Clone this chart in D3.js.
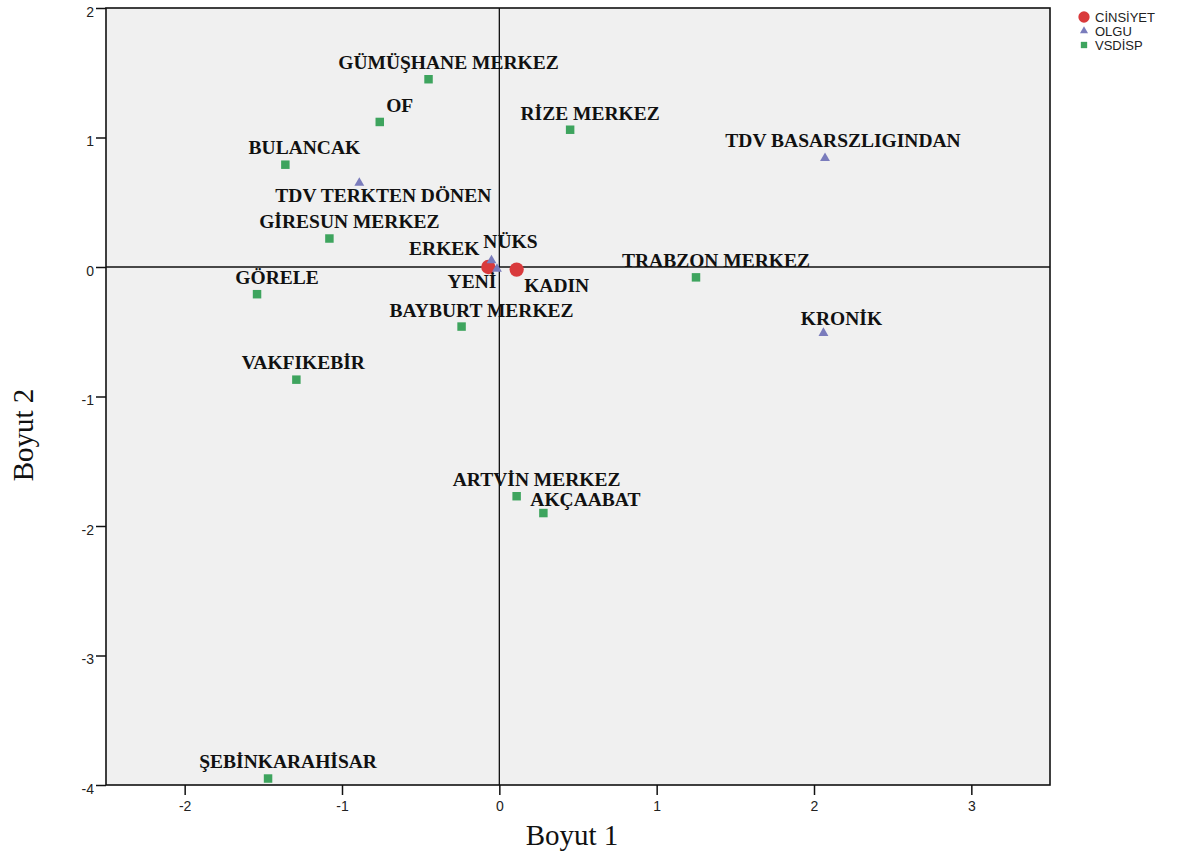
<!DOCTYPE html>
<html>
<head>
<meta charset="utf-8">
<script src="https://cdn.jsdelivr.net/npm/d3@7/dist/d3.min.js"></script>
<style>
  html, body { margin: 0; padding: 0; background: #ffffff; }
  svg { display: block; }
  .ptlabel { font-family: "Liberation Serif", "Times New Roman", serif; font-weight: bold; font-size: 19.5px; fill: #111; }
</style>
</head>
<body>
<svg id="chart" width="1188" height="859"></svg>
<script>
// CİNSİYET category points
const cinsiyetNames = ["ERKEK", "KADIN"];
const cinsiyetX = [-0.07, 0.11];
const cinsiyetY = [0.00, -0.02];

// OLGU category points
const olguNames = ["NÜKS", "YENİ", "TDV TERKTEN DÖNEN", "TDV BASARSZLIGINDAN", "KRONİK"];
const olguX = [-0.05, -0.015, -0.89, 2.07, 2.06];
const olguY = [0.05, -0.015, 0.65, 0.84, -0.51];

// VSDİSP category points
const vsdispNames = ["GÜMÜŞHANE MERKEZ", "OF", "RİZE MERKEZ", "BULANCAK", "GİRESUN MERKEZ",
  "GÖRELE", "VAKFIKEBİR", "BAYBURT MERKEZ", "TRABZON MERKEZ", "ARTVİN MERKEZ",
  "AKÇAABAT", "ŞEBİNKARAHİSAR"];
const vsdispX = [-0.45, -0.76, 0.45, -1.36, -1.08, -1.54, -1.29, -0.24, 1.25, 0.11, 0.28, -1.47];
const vsdispY = [1.45, 1.12, 1.06, 0.79, 0.22, -0.21, -0.87, -0.46, -0.08, -1.77, -1.90, -3.95];

// axis ticks
const xTicks = [-2, -1, 0, 1, 2, 3];
const yTicks = [-4, -3, -2, -1, 0, 1, 2];

// legend entries
const legendNames = ["CİNSİYET", "OLGU", "VSDİSP"];

// label placement (pixel offsets from the marker), default is above-right
const labelDefault = { dx: 20, dy: -10 };
const labelOffsets = {
  "ERKEK": { dx: -44, dy: -12 },
  "KADIN": { dx: 40, dy: 22 },
  "NÜKS": { dx: 19, dy: -13 },
  "YENİ": { dx: -25, dy: 19 },
  "TDV TERKTEN DÖNEN": { dx: 24, dy: 19 },
  "TDV BASARSZLIGINDAN": { dx: 18, dy: -11 },
  "KRONİK": { dx: 18, dy: -8 },
  "VAKFIKEBİR": { dx: 7, dy: -11 },
  "AKÇAABAT": { dx: 42, dy: -7 },
  "BULANCAK": { dx: 19, dy: -11 },
  "GİRESUN MERKEZ": { dx: 20, dy: -11 },
  "ŞEBİNKARAHİSAR": { dx: 20, dy: -11 }
};

const colors = { cinsiyet: "#d93a3c", olgu: "#7a7cbc", vsdisp: "#3ea45e" };

const svg = d3.select("#chart");
const plotLeft = 106, plotRight = 1050, plotTop = 8, plotBottom = 785;

const x = d3.scaleLinear().domain([-2.5, 3.5]).range([plotLeft, plotRight]);
const y = d3.scaleLinear().domain([-4, 2]).range([plotBottom, plotTop]);

// plot background
svg.append("rect")
  .attr("x", plotLeft).attr("y", plotTop)
  .attr("width", plotRight - plotLeft).attr("height", plotBottom - plotTop)
  .attr("fill", "#f0f0f0");

const tickFmt = d => String(d);

// axes
const xAxis = svg.append("g")
  .attr("transform", `translate(0,${plotBottom})`)
  .call(d3.axisBottom(x).tickValues(xTicks).tickSize(10).tickSizeOuter(0).tickFormat(tickFmt));
xAxis.select(".domain").remove();
xAxis.attr("font-size", 14).attr("font-family", "Liberation Sans, Arial, sans-serif");
xAxis.selectAll(".tick line").attr("stroke", "#111").attr("stroke-width", 1.5);
xAxis.selectAll(".tick text").attr("fill", "#222").attr("dy", "0.95em");

const yAxis = svg.append("g")
  .attr("transform", `translate(${plotLeft},0)`)
  .call(d3.axisLeft(y).tickValues(yTicks).tickSize(10).tickSizeOuter(0).tickFormat(tickFmt));
yAxis.select(".domain").remove();
yAxis.attr("font-size", 14).attr("font-family", "Liberation Sans, Arial, sans-serif");
yAxis.selectAll(".tick line").attr("stroke", "#111").attr("stroke-width", 1.5);
yAxis.selectAll(".tick text").attr("fill", "#222").attr("dy", "0.6em").attr("x", -12);

// reference lines through the origin
svg.append("line")
  .attr("x1", x(0)).attr("x2", x(0)).attr("y1", plotTop).attr("y2", plotBottom)
  .attr("stroke", "#111").attr("stroke-width", 1.3);
svg.append("line")
  .attr("x1", plotLeft).attr("x2", plotRight).attr("y1", y(0)).attr("y2", y(0))
  .attr("stroke", "#111").attr("stroke-width", 1.3);

// frame
svg.append("rect")
  .attr("x", plotLeft).attr("y", plotTop)
  .attr("width", plotRight - plotLeft).attr("height", plotBottom - plotTop)
  .attr("fill", "none").attr("stroke", "#111").attr("stroke-width", 1.6);

const build = (names, xs, ys, group) => names.map((n, i) => ({ name: n, x: xs[i], y: ys[i], group }));
const cinsiyet = build(cinsiyetNames, cinsiyetX, cinsiyetY, "cinsiyet");
const olgu = build(olguNames, olguX, olguY, "olgu");
const vsdisp = build(vsdispNames, vsdispX, vsdispY, "vsdisp");
const all = [...cinsiyet, ...olgu, ...vsdisp];

const symSquare = d3.symbol().type(d3.symbolSquare).size(72);
const symTriangle = d3.symbol().type(d3.symbolTriangle).size(42);
const symCircle = d3.symbol().type(d3.symbolCircle).size(160);

const marks = svg.append("g");
marks.selectAll(".sq").data(vsdisp).join("path")
  .attr("d", symSquare)
  .attr("transform", d => `translate(${x(d.x)},${y(d.y)})`)
  .attr("fill", colors.vsdisp);
marks.selectAll(".ci").data(cinsiyet).join("path")
  .attr("d", symCircle)
  .attr("transform", d => `translate(${x(d.x)},${y(d.y)})`)
  .attr("fill", colors.cinsiyet);
marks.selectAll(".tr").data(olgu).join("path")
  .attr("d", symTriangle)
  .attr("transform", d => `translate(${x(d.x)},${y(d.y)})`)
  .attr("fill", colors.olgu);

// point labels
svg.append("g").selectAll("text").data(all).join("text")
  .attr("class", "ptlabel")
  .attr("text-anchor", "middle")
  .attr("x", d => x(d.x) + (labelOffsets[d.name] || labelDefault).dx)
  .attr("y", d => y(d.y) + (labelOffsets[d.name] || labelDefault).dy)
  .text(d => d.name);

// axis titles
svg.append("text")
  .attr("x", 572).attr("y", 845)
  .attr("text-anchor", "middle")
  .attr("font-family", "Liberation Serif, Times New Roman, serif")
  .attr("font-size", 29).attr("fill", "#111")
  .text("Boyut 1");
svg.append("text")
  .attr("transform", "translate(33,435) rotate(-90)")
  .attr("text-anchor", "middle")
  .attr("font-family", "Liberation Serif, Times New Roman, serif")
  .attr("font-size", 29).attr("fill", "#111")
  .text("Boyut 2");

// legend
const lg = svg.append("g").attr("transform", "translate(1084,17)");
legendNames.forEach((name, i) => {
  const gy = i * 14;
  const sym = i === 0 ? d3.symbol().type(d3.symbolCircle).size(100)
            : i === 1 ? d3.symbol().type(d3.symbolTriangle).size(28)
            : d3.symbol().type(d3.symbolSquare).size(40);
  const col = i === 0 ? colors.cinsiyet : i === 1 ? colors.olgu : colors.vsdisp;
  lg.append("path").attr("d", sym).attr("transform", `translate(0,${gy})`).attr("fill", col);
  lg.append("text")
    .attr("x", 11).attr("y", gy).attr("dy", "0.36em")
    .attr("font-family", "Liberation Sans, Arial, sans-serif")
    .attr("font-size", 13).attr("fill", "#222")
    .text(name);
});
</script>
</body>
</html>
